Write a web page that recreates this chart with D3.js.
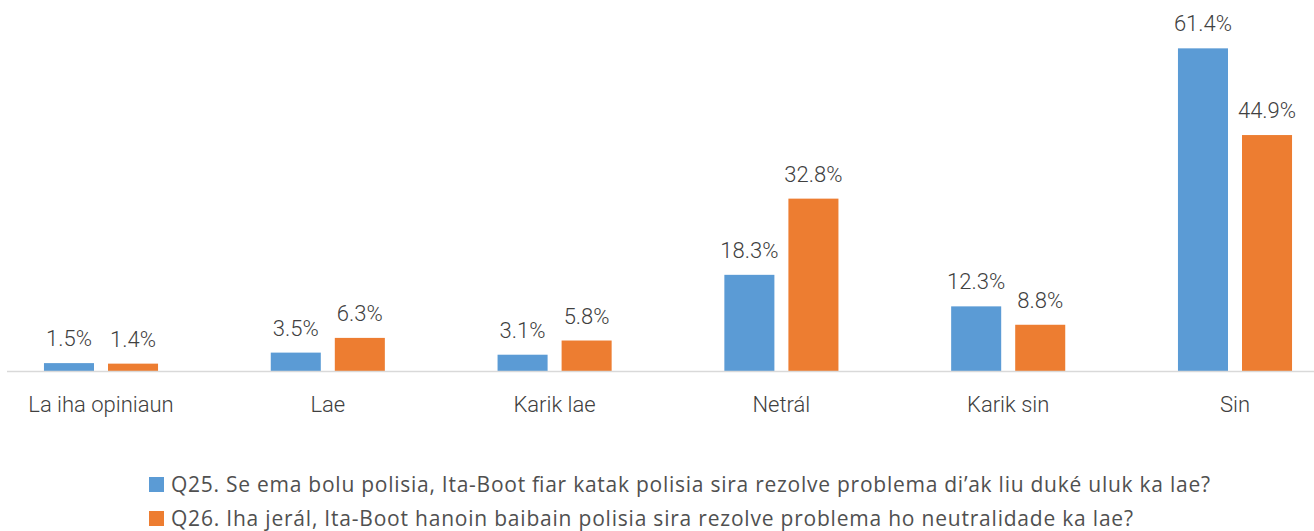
<!DOCTYPE html>
<html>
<head>
<meta charset="utf-8">
<script src="https://cdn.jsdelivr.net/npm/d3@7"></script>
<style>
  body { margin: 0; background: #fff; }
  svg text { fill: #404040; }
</style>
</head>
<body>
<div id="chart"></div>
<script>
// data
var categories = ["La iha opiniaun", "Lae", "Karik lae", "Netrál", "Karik sin", "Sin"];
var seriesNames = [
  "Q25. Se ema bolu polisia, Ita-Boot fiar katak polisia sira rezolve problema di’ak liu duké uluk ka lae?",
  "Q26. Iha jerál, Ita-Boot hanoin baibain polisia sira rezolve problema ho neutralidade ka lae?"
];
var q25 = [1.5, 3.5, 3.1, 18.3, 12.3, 61.4];
var q26 = [1.4, 6.3, 5.8, 32.8, 8.8, 44.9];
var colors = ["#5B9BD5", "#ED7D31"];

var width = 1314, height = 531;
var baseY = 371;

var svg = d3.select("#chart").append("svg")
  .attr("width", width)
  .attr("height", height);

var x0 = d3.scaleBand()
  .domain(categories)
  .range([-12.4, 1348.4])
  .paddingInner(0.497)
  .paddingOuter(0.2485);

var x1 = d3.scaleBand()
  .domain([0, 1])
  .range([0, x0.bandwidth()])
  .paddingInner(0.21875);

var y = d3.scaleLinear()
  .domain([0, 70])
  .range([baseY, baseY - 70 * 5.255]);

var labelFont = "Roboto, sans-serif";

var rows = categories.map(function(c, i) { return {cat: c, vals: [q25[i], q26[i]]}; });

var groups = svg.selectAll("g.grp")
  .data(rows)
  .enter().append("g")
  .attr("class", "grp")
  .attr("transform", function(d) { return "translate(" + x0(d.cat) + ",0)"; });

groups.selectAll("rect")
  .data(function(d) { return d.vals; })
  .enter().append("rect")
  .attr("x", function(d, i) { return x1(i); })
  .attr("width", x1.bandwidth())
  .attr("y", function(d) { return y(d); })
  .attr("height", function(d) { return baseY - y(d); })
  .attr("fill", function(d, i) { return colors[i]; });

// value labels
groups.selectAll("text.val")
  .data(function(d) { return d.vals; })
  .enter().append("text")
  .attr("class", "val")
  .attr("x", function(d, i) { return x1(i) + x1.bandwidth() / 2; })
  .attr("y", function(d) { return y(d) - 17; })
  .attr("text-anchor", "middle")
  .style("font-family", labelFont)
  .style("font-weight", 300)
  .style("font-size", "22px")
  .text(function(d) { return d.toFixed(1) + "%"; });

// axis line
svg.append("line")
  .attr("x1", 7).attr("x2", width)
  .attr("y1", baseY + 0.5).attr("y2", baseY + 0.5)
  .attr("stroke", "#d9d9d9")
  .attr("stroke-width", 1.5);

// category labels
svg.selectAll("text.cat")
  .data(categories)
  .enter().append("text")
  .attr("class", "cat")
  .attr("x", function(d) { return x0(d) + x0.bandwidth() / 2; })
  .attr("y", 412)
  .attr("text-anchor", "middle")
  .style("font-family", labelFont)
  .style("font-weight", 300)
  .style("font-size", "22px")
  .text(function(d) { return d; });

// legend
var legendEnds = [1210, 1133];
var legend = svg.selectAll("g.leg")
  .data(seriesNames)
  .enter().append("g")
  .attr("class", "leg")
  .attr("transform", function(d, i) { return "translate(149," + (477 + i * 34) + ")"; });

legend.append("rect")
  .attr("width", 15).attr("height", 15)
  .attr("fill", function(d, i) { return colors[i]; });

legend.append("text")
  .attr("x", 22)
  .attr("y", 15)
  .attr("textLength", function(d, i) { return legendEnds[i] - 171; })
  .attr("lengthAdjust", "spacing")
  .style("font-family", "'Open Sans', sans-serif")
  .style("font-size", "21px")
  .style("fill", "#505050")
  .text(function(d) { return d; });
</script>
</body>
</html>
